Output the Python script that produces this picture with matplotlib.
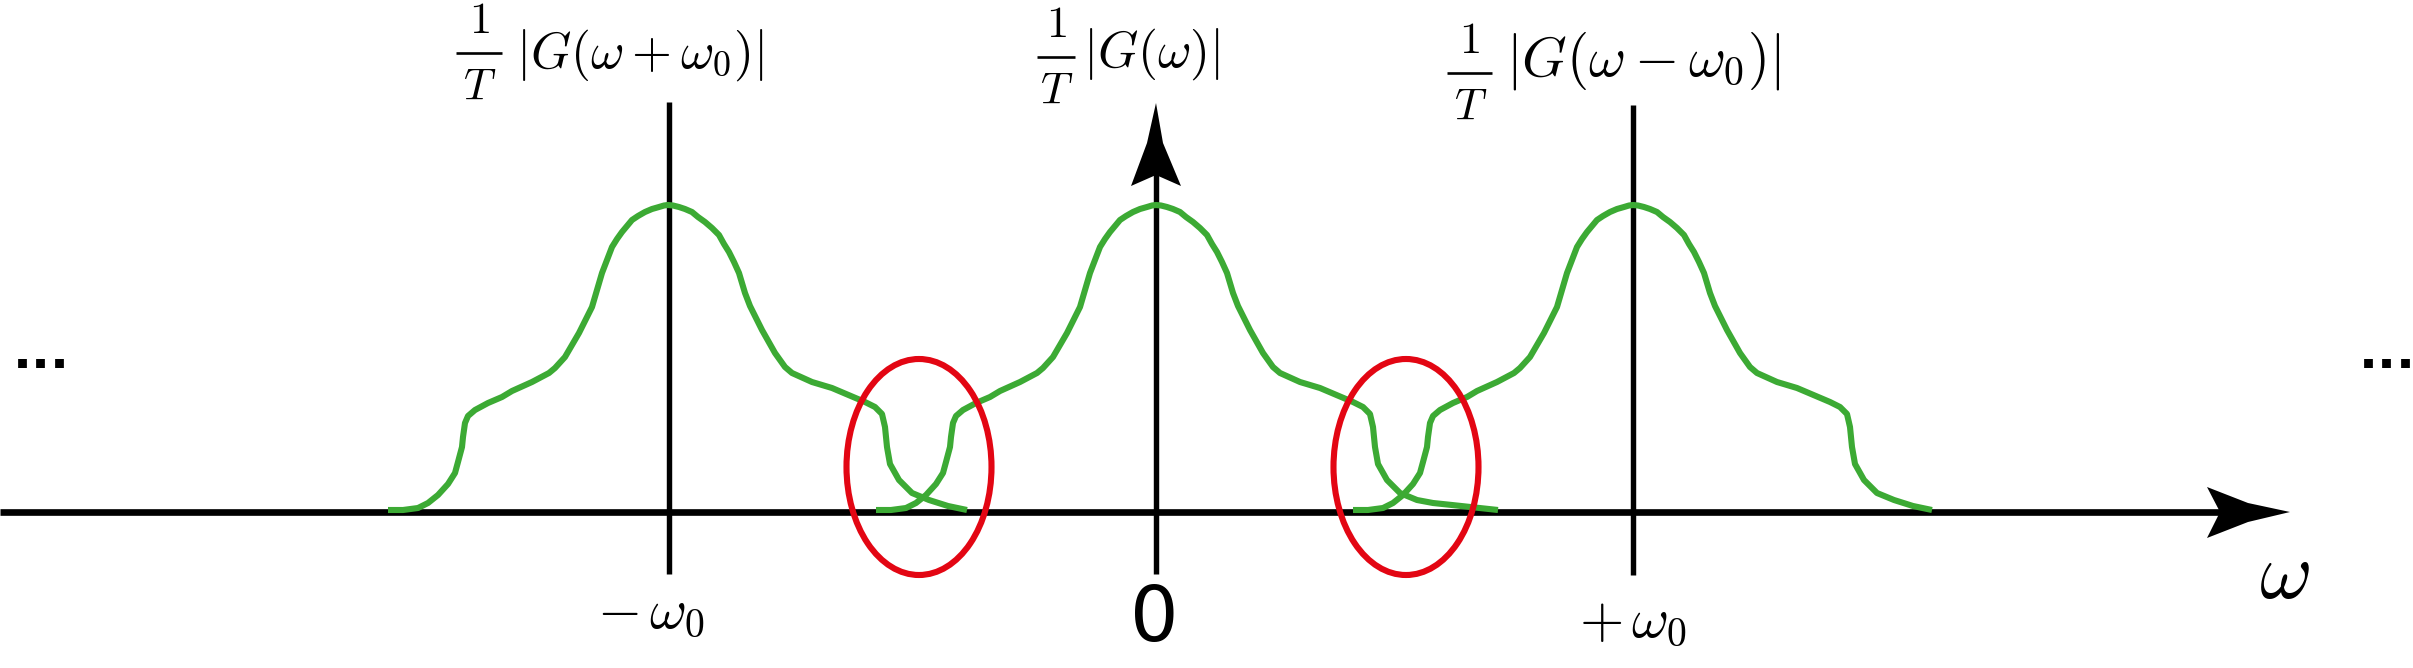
import matplotlib
matplotlib.use("Agg")
import matplotlib.pyplot as plt
from matplotlib.patches import Ellipse, Polygon

plt.rcParams["mathtext.fontset"] = "cm"

# spectrum copies: centre of each bump on the omega axis (px from origin)
bump_centers = [-488, 0, 477]

# shape of one bump |G|: offset from its centre and height above the axis
left_dx = [-280, -265, -250, -240, -230, -220, -213, -210, -206, -205, -203, -200,
           -193, -180, -166, -156, -136, -119, -113, -103, -89, -76, -71, -66,
           -61, -56, -51, -46, -41, -36, -30, -23, -16, -9, -4, 0]
left_h = [2, 2, 4, 9, 17, 28, 39, 50, 65, 75, 89, 96,
          102, 109, 115, 121, 130, 139, 144, 155, 179, 205, 222, 239,
          252, 265, 273, 280, 286, 292, 296, 300, 303, 305, 306.5, 307]
right_dx = [5, 11, 17, 24, 30, 37, 44, 51, 56, 61, 66, 71, 77, 82, 94, 107, 117, 124,
            144, 164, 197, 207, 214, 217, 219, 222, 231, 244, 261]
right_h = [306.5, 305, 303, 300, 295, 290, 284, 277, 268, 260, 250, 239, 219, 206, 182,
           159, 145, 139, 130, 124, 110, 105, 98, 85, 65, 48, 32, 19, 12]
# the middle copy has a longer flat tail on the right
tail_center_dx = [277, 296, 342]
tail_center_h = [9, 7, 2]
tail_side_dx = [280, 299]
tail_side_h = [6, 2]

# red circles round the overlap (aliasing) regions
overlap_x = [-237, 250]
overlap_y = 45
overlap_w = 145
overlap_h = 216

# top labels: 1/T factor (bar span and height) and the shifted spectrum
spec_labels = [r"$|G(\omega+\omega_0)|$", r"$|G(\omega)|$", r"$|G(\omega-\omega_0)|$"]
spec_sizes = [37, 37, 41]
frac_x0 = [-700, -119, 291]
frac_x1 = [-654, -81, 336]
frac_y = [459, 455, 439]
spec_x = [-640, -73, 350]
spec_y = [444, 445, 436]

GREEN = "#3caa34"
RED = "#e30613"

fig = plt.figure(figsize=(24.13, 6.68), dpi=100)
ax = fig.add_axes([0, 0, 1, 1])
ax.set_xlim(-1156, 1257)
ax.set_ylim(-156, 512)
ax.axis("off")

# omega axis with arrow
ax.plot([-1156, 1070], [0, 0], color="black", lw=4.8, solid_capstyle="butt", zorder=2)
ax.add_patch(Polygon([[1134, 0], [1092, 9], [1051, 25], [1064, 0], [1051, -26], [1092, -10]],
                     closed=True, color="black", lw=0, zorder=2))

# vertical lines at -w0, 0, +w0
ax.plot([-487, -487], [-62, 410], color="black", lw=3.9, solid_capstyle="butt", zorder=2)
ax.plot([477, 477], [-63, 407], color="black", lw=3.9, solid_capstyle="butt", zorder=2)
ax.plot([0, 0], [-62, 345], color="black", lw=3.9, solid_capstyle="butt", zorder=2)
ax.add_patch(Polygon([[0, 409], [-9, 369], [-25, 326], [0, 337], [25, 326], [7, 369]],
                     closed=True, color="black", lw=0, zorder=2))

# the three shifted spectra
for c in bump_centers:
    if c == 0:
        tdx, th = tail_center_dx, tail_center_h
    else:
        tdx, th = tail_side_dx, tail_side_h
    xs = [c + d for d in left_dx + right_dx + tdx]
    ys = left_h + right_h + th
    ax.plot(xs, ys, color=GREEN, lw=4.4, solid_joinstyle="round",
            solid_capstyle="butt", zorder=3)

for ox in overlap_x:
    ax.add_patch(Ellipse((ox, overlap_y), overlap_w, overlap_h, fill=False,
                         edgecolor=RED, lw=4.4, zorder=4))

# labels (display-style fraction: numerator, bar, denominator)
for x0, x1, fy, sx, sy, s, fs in zip(frac_x0, frac_x1, frac_y, spec_x, spec_y,
                                     spec_labels, spec_sizes):
    xm = (x0 + x1) / 2
    ax.plot([x0, x1], [fy, fy], color="black", lw=1.9, solid_capstyle="butt")
    ax.text(xm, fy + 20, r"$1$", fontsize=32, ha="center", va="baseline")
    ax.text(xm + 1, fy - 47, r"$T$", fontsize=32, ha="center", va="baseline")
    ax.text(sx, sy, s, fontsize=fs, ha="left", va="baseline")

ax.text(-505, -100, r"$-\,\omega_0$", fontsize=41, ha="center", va="center")
ax.text(477, -109, r"$+\,\omega_0$", fontsize=41, ha="center", va="center")
ax.text(-2, -108, "0", fontsize=55, ha="center", va="center", family="DejaVu Sans")
ax.text(1128, -64, r"$\omega$", fontsize=58, ha="center", va="center")

ax.text(-1115, 144, "...", fontsize=36, fontweight="bold", ha="center", va="baseline")
ax.text(1231, 144, "...", fontsize=36, fontweight="bold", ha="center", va="baseline")

fig.savefig("out.png", dpi=100)
